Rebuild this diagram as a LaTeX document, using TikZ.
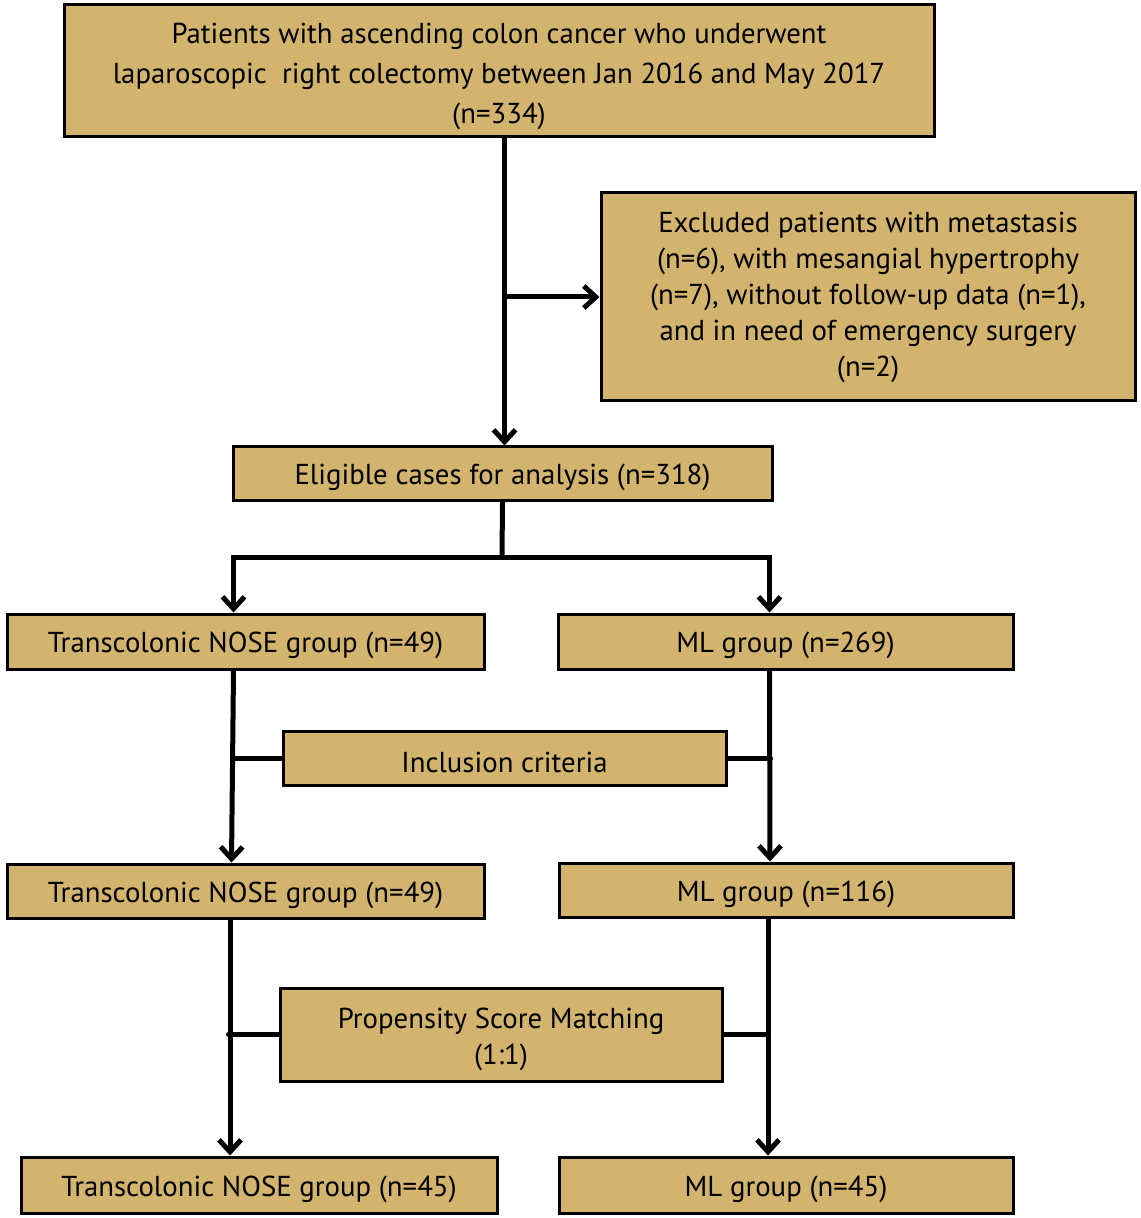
\documentclass[tikz,border=0pt]{standalone}
\usepackage{fontspec}
\setmainfont{PT Sans}
\usetikzlibrary{arrows.meta}
\definecolor{boxfill}{RGB}{211,180,110}
\tikzset{
  box/.style={draw=black, line width=1.5pt, fill=boxfill, inner sep=0pt,
    align=center, font=\fontsize{14.4}{18}\selectfont,
    execute at begin node={\rule{0pt}{14.5pt}}},
  link/.style={line width=2.5pt, line cap=round},
  arr/.style={link, -{Straight Barb[length=6pt, width=11pt, line width=2.5pt]}}
}
\begin{document}
\begin{tikzpicture}[x=0.5pt, y=-0.5pt]
  \useasboundingbox (0,0) rectangle (1140,1218);
  % Kaestchen
  \node[box, font=\fontsize{14.4}{20}\selectfont, text height=55.5pt,
        minimum width=435pt, minimum height=66pt] (top) at (499,71)
    {Patients with ascending colon cancer who underwent\\
     laparoscopic\ \ right colectomy between Jan 2016 and May 2017\\ (n=334)};
  \node[box, minimum width=267pt, minimum height=104pt] (excl) at (868,297)
    {Excluded patients with metastasis\\ (n=6), with mesangial hypertrophy\\
     (n=7), without follow-up data (n=1),\\ and in need of emergency surgery\\ (n=2)};
  \node[box, minimum width=269.5pt, minimum height=26.5pt] (elig) at (502.5,473.5)
    {Eligible cases for analysis (n=318)};
  \node[box, minimum width=238.5pt, minimum height=27.5pt] (nose1) at (245.5,641.5)
    {Transcolonic NOSE group (n=49)};
  \node[box, minimum width=227.5pt, minimum height=27.5pt] (ml1) at (785.5,641.5)
    {ML group (n=269)};
  \node[box, minimum width=221.5pt, minimum height=27pt] (incl) at (504.5,758)
    {Inclusion criteria};
  \node[box, minimum width=238.5pt, minimum height=27pt] (nose2) at (245.5,891)
    {Transcolonic NOSE group (n=49)};
  \node[box, minimum width=227pt, minimum height=27pt] (ml2) at (786,890)
    {ML group (n=116)};
  \node[box, text height=33.5pt, minimum width=221pt, minimum height=46.5pt] (psm) at (501,1034.5)
    {Propensity Score Matching\\ (1:1)};
  \node[box, minimum width=238pt, minimum height=28pt] (nose3) at (259,1185)
    {Transcolonic NOSE group (n=45)};
  \node[box, minimum width=227pt, minimum height=28pt] (ml3) at (786,1185)
    {ML group (n=45)};
  % Hauptstrang und Ausschluss
  \draw[arr] ([xshift=1pt]elig.north |- top.south) -- ([xshift=1pt]elig.north);
  \draw[arr] ([xshift=1pt]elig.north |- excl.west) -- (excl.west);
  % Aufteilung in zwei Gruppen
  \coordinate (fork) at (502,557);
  \draw[link] (elig.south) -- (fork);
  \draw[arr] (fork) -| ([xshift=-6pt]nose1.north);
  \draw[arr] (fork) -| ([xshift=-8pt]ml1.north);
  % Einschlusskriterien
  \draw[arr] ([xshift=-6pt]nose1.south) -- ([xshift=-7pt]nose2.north);
  \draw[arr] ([xshift=-8pt]ml1.south) -- ([xshift=-8pt]ml2.north);
  \draw[link] (incl.west) -- ++(-47,0);
  \draw[link] (incl.east) -- ++(43,0);
  % Propensity Score Matching
  \draw[arr] ([xshift=-7.75pt]nose2.south) -- ([xshift=-14.5pt]nose3.north);
  \draw[arr] ([xshift=-9pt]ml2.south) -- ([xshift=-9pt]ml3.north);
  \draw[link] (psm.west) -- ++(-50,0);
  \draw[link] (psm.east) -- ++(45,0);
\end{tikzpicture}
\end{document}
